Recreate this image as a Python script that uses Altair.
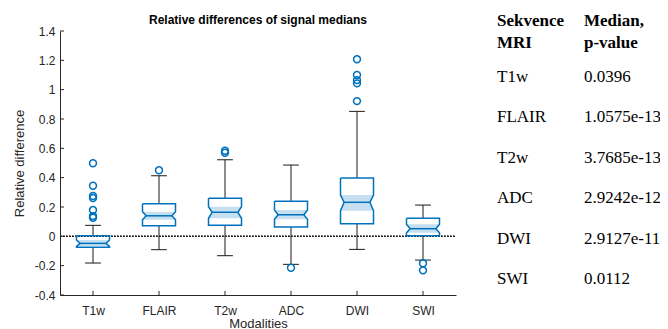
import altair as alt
import pandas as pd

# ---------------- data ----------------
modalities = ["T1w", "FLAIR", "T2w", "ADC", "DWI", "SWI"]
q1 = [-0.075, 0.072, 0.075, 0.063, 0.086, 0.004]
q3 = [0.004, 0.222, 0.259, 0.239, 0.397, 0.123]
median = [-0.048, 0.140, 0.164, 0.147, 0.232, 0.052]
notch_lo = [-0.068, 0.113, 0.123, 0.116, 0.175, 0.025]
notch_hi = [-0.025, 0.168, 0.202, 0.179, 0.282, 0.082]
whisker_lo = [-0.182, -0.091, -0.132, -0.191, -0.089, -0.162]
whisker_hi = [0.075, 0.413, 0.522, 0.486, 0.852, 0.213]
outliers = [
    [0.498, 0.345, 0.275, 0.261, 0.179, 0.138, 0.127],
    [0.45],
    [0.583, 0.570],
    [-0.214],
    [1.207, 1.10, 1.065, 1.043, 0.922],
    [-0.184, -0.232],
]
y_ticks = [-0.4, -0.2, 0.0, 0.2, 0.4, 0.6, 0.8, 1.0, 1.2, 1.4]

chart_title = "Relative differences of signal medians"
table_header = ["Sekvence\nMRI", "Median,\np-value"]
table_names = ["T1w", "FLAIR", "T2w", "ADC", "DWI", "SWI"]
table_pvalues = ["0.0396", "1.0575e-13", "3.7685e-13", "2.9242e-12", "2.9127e-11", "0.0112"]

# ---------------- geometry / style ----------------
BOX_HALF = 0.25
NOTCH_HALF = 0.195
CAP_HALF = 0.12
BLUE = "#0072BD"
AXIS_C = "#262626"
W, H = 396, 264

pos = list(range(1, len(modalities) + 1))
stats = pd.DataFrame(dict(pos=pos, name=modalities, q1=q1, q3=q3, med=median,
                          nlo=notch_lo, nhi=notch_hi, wlo=whisker_lo, whi=whisker_hi))
stats["left"] = stats.pos - BOX_HALF
stats["right"] = stats.pos + BOX_HALF
stats["nleft"] = stats.pos - NOTCH_HALF
stats["nright"] = stats.pos + NOTCH_HALF
stats["cl"] = stats.pos - CAP_HALF
stats["cr"] = stats.pos + CAP_HALF

outline_rows, notch_rows = [], []
for _, r in stats.iterrows():
    pts = [(r.left, r.q3), (r.right, r.q3), (r.right, r.nhi), (r.nright, r.med),
           (r.right, r.nlo), (r.right, r.q1), (r.left, r.q1), (r.left, r.nlo),
           (r.nleft, r.med), (r.left, r.nhi), (r.left, r.q3)]
    for k, (x, y) in enumerate(pts):
        outline_rows.append(dict(name=r["name"], k=k, x=x, y=y))
    for y, a, b in [(r.nlo, r.left, r.right), (r.med, r.nleft, r.nright), (r.nhi, r.left, r.right)]:
        notch_rows.append(dict(name=r["name"], y=y, x=a, x2=b))
outline = pd.DataFrame(outline_rows)
notch = pd.DataFrame(notch_rows)
out_df = pd.DataFrame([dict(pos=p, v=v) for p, vs in zip(pos, outliers) for v in vs])

xs = alt.Scale(domain=[0.5, 6.5], nice=False, zero=False)
ys = alt.Scale(domain=[-0.4, 1.4], nice=False, zero=False)
label_arr = "[" + ",".join("'%s'" % m for m in modalities) + "]"

x_axis = alt.Axis(values=pos, labelExpr=label_arr + "[datum.value-1]", title="Modalities",
                  labelPadding=10, titlePadding=1, domainColor=AXIS_C, labelOverlap=False)
y_axis = alt.Axis(values=y_ticks, labelExpr="'' + round(datum.value*10)/10",
                  title="Relative difference", labelPadding=5, titlePadding=8,
                  domainColor=AXIS_C, labelOverlap=False)

base_s = alt.Chart(stats)

zero_line = base_s.mark_rule(color="#222222", strokeDash=[1.5, 1.5], strokeWidth=1).encode(
    x=alt.datum(0.5, scale=xs, axis=x_axis), x2=alt.datum(6.5), y=alt.datum(0, scale=ys, axis=y_axis))

whisk_up = base_s.mark_rule(color="#1a1a1a", strokeWidth=1).encode(
    x=alt.X("pos:Q", scale=xs, axis=x_axis), y=alt.Y("q3:Q", scale=ys, axis=y_axis), y2="whi:Q")
whisk_dn = base_s.mark_rule(color="#1a1a1a", strokeWidth=1).encode(
    x=alt.X("pos:Q", scale=xs, axis=x_axis), y=alt.Y("q1:Q", scale=ys, axis=y_axis), y2="wlo:Q")
cap_up = base_s.mark_rule(color="#1a1a1a", strokeWidth=1).encode(
    x=alt.X("cl:Q", scale=xs, axis=x_axis), x2="cr:Q", y=alt.Y("whi:Q", scale=ys, axis=y_axis))
cap_dn = base_s.mark_rule(color="#1a1a1a", strokeWidth=1).encode(
    x=alt.X("cl:Q", scale=xs, axis=x_axis), x2="cr:Q", y=alt.Y("wlo:Q", scale=ys, axis=y_axis))

notch_fill = alt.Chart(notch).mark_area(orient="horizontal", color=BLUE, opacity=0.22).encode(
    y=alt.Y("y:Q", scale=ys, axis=y_axis), x=alt.X("x:Q", scale=xs, axis=x_axis), x2="x2:Q",
    detail="name:N")

box_line = alt.Chart(outline).mark_line(color=BLUE, strokeWidth=1.5).encode(
    x=alt.X("x:Q", scale=xs, axis=x_axis), y=alt.Y("y:Q", scale=ys, axis=y_axis),
    detail="name:N", order="k:Q")

med_line = base_s.mark_rule(color=BLUE, strokeWidth=1.5).encode(
    x=alt.X("nleft:Q", scale=xs, axis=x_axis), x2="nright:Q", y=alt.Y("med:Q", scale=ys, axis=y_axis))

out_pts = alt.Chart(out_df).mark_point(shape="circle", color=BLUE, filled=False,
                                        size=48, strokeWidth=1.5, opacity=1).encode(
    x=alt.X("pos:Q", scale=xs, axis=x_axis), y=alt.Y("v:Q", scale=ys, axis=y_axis))

ytick_df = pd.DataFrame(dict(v=y_ticks))
y_tick_marks = alt.Chart(ytick_df).mark_rule(color=AXIS_C, strokeWidth=1).encode(
    y=alt.Y("v:Q", scale=ys, axis=y_axis), x=alt.value(0), x2=alt.value(4))
x_tick_marks = base_s.mark_rule(color=AXIS_C, strokeWidth=1).encode(
    x=alt.X("pos:Q", scale=xs, axis=x_axis), y=alt.value(H), y2=alt.value(H - 4))

title_mark = alt.Chart(pd.DataFrame(dict(t=[chart_title]))).mark_text(
    font="Liberation Sans", fontSize=12, fontWeight="bold", color="black",
    align="center", baseline="alphabetic").encode(
    x=alt.datum(3.5, scale=xs, axis=x_axis), y=alt.value(-7.5), text="t:N")

main = alt.layer(zero_line, whisk_up, whisk_dn, cap_up, cap_dn, notch_fill, box_line,
                 med_line, out_pts, y_tick_marks, x_tick_marks, title_mark)

# ---------------- p-value table on the right ----------------
tab_rows = [dict(row=-1.38, col=0, t=table_header[0], bold=True),
            dict(row=-1.38, col=1, t=table_header[1], bold=True)]
for i, (n, p) in enumerate(zip(table_names, table_pvalues)):
    tab_rows.append(dict(row=i, col=0, t=n, bold=False))
    tab_rows.append(dict(row=i, col=1, t=p, bold=False))
tab = pd.DataFrame(tab_rows)

tx = alt.Scale(domain=[0, 1], range=[437, 524])
ty = alt.Scale(domain=[0, 5], range=[51, 253])
tab_head = alt.Chart(tab[tab.bold]).mark_text(
    align="left", baseline="alphabetic", font="Liberation Serif", fontSize=17,
    fontWeight="bold", color="black", lineBreak="\n", lineHeight=22).encode(
    x=alt.X("col:Q", scale=tx, axis=None), y=alt.Y("row:Q", scale=ty, axis=None), text="t:N")
tab_body = alt.Chart(tab[~tab.bold]).mark_text(
    align="left", baseline="alphabetic", font="Liberation Serif", fontSize=17,
    color="black").encode(
    x=alt.X("col:Q", scale=tx, axis=None), y=alt.Y("row:Q", scale=ty, axis=None), text="t:N")
table = alt.layer(tab_head, tab_body)

chart = alt.layer(main, table).resolve_scale(x="independent", y="independent").properties(
    width=W, height=H,
    autosize=alt.AutoSizeParams(type="none"),
    padding={"left": 52, "top": 23, "right": 204, "bottom": 36},
).configure_axis(
    grid=False, ticks=False, labelFont="Liberation Sans", titleFont="Liberation Sans",
    labelFontSize=12, titleFontSize=13, titleFontWeight="normal",
    labelColor=AXIS_C, titleColor=AXIS_C, domainWidth=1, labelOverlap=False,
).configure_view(stroke=None)

chart.save("out.html", embed_options={"renderer": "svg", "actions": False})
